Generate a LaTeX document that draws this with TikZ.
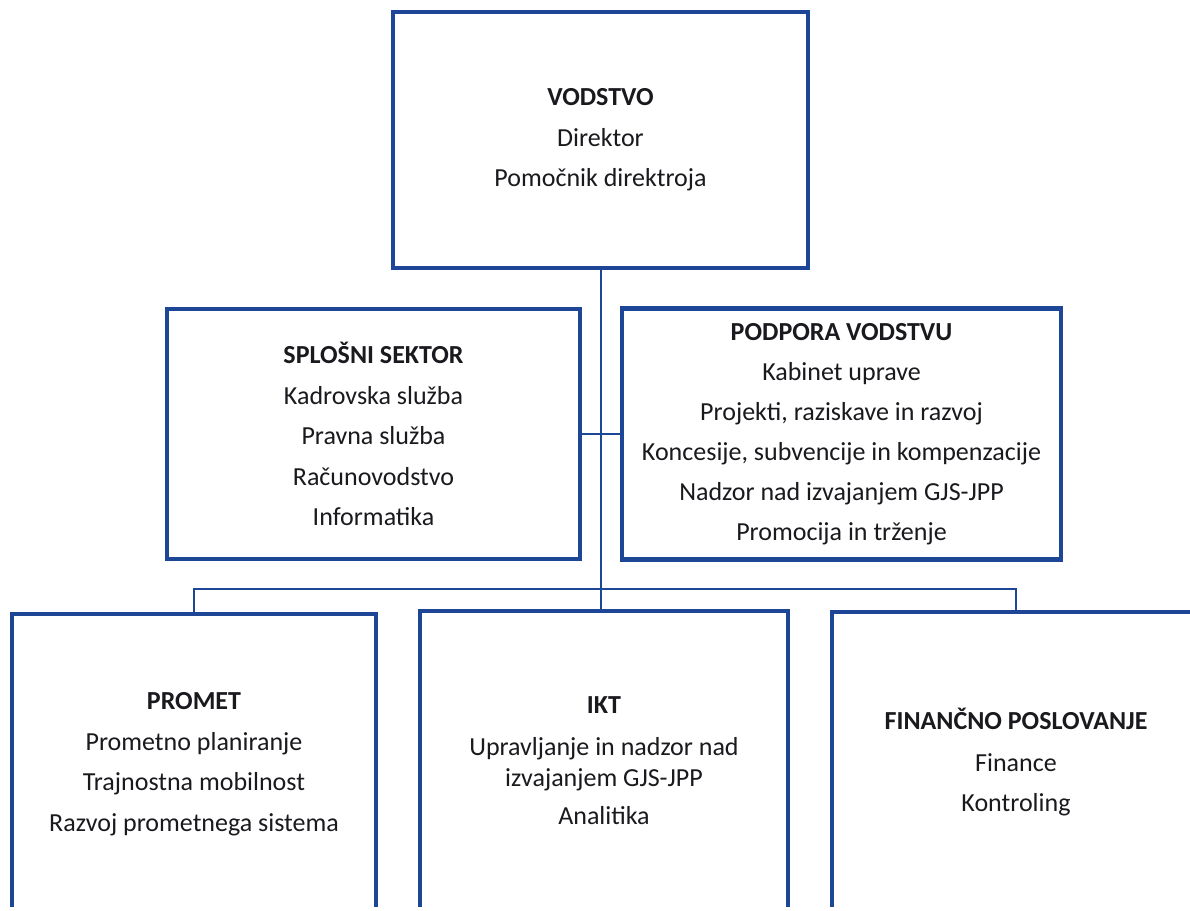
\documentclass[tikz,border=0pt]{standalone}
\usepackage{fontspec}
\setmainfont{Carlito}
\definecolor{orgblue}{RGB}{30,70,150}
\definecolor{txt}{RGB}{25,25,30}
\begin{document}
\begin{tikzpicture}[x=1pt,y=-1pt,
  unit/.style={draw=orgblue,line width=4.5pt,fill=white,inner sep=0pt,
    align=center,text=txt,font=\fontsize{26}{31}\selectfont},
  link/.style={draw=orgblue,line width=2.5pt}]
\useasboundingbox (0,0) rectangle (1190,910);
\fill[white] (0,0) rectangle (1190,910);
\clip (-5,-5) rectangle (1190,906);
\coordinate (bar) at (601,589);
\node[unit,minimum width=415pt,minimum height=256pt] (vod) at (600.5,140)
  {\textbf{VODSTVO}\\[9.5pt]Direktor\\[9.5pt]Pomočnik direktroja};
\node[unit,minimum width=413pt,minimum height=250pt] (splo) at (373.5,434)
  {\textbf{SPLOŠNI SEKTOR}\\[9.5pt]Kadrovska služba\\[9.5pt]Pravna služba\\[9.5pt]Računovodstvo\\[9.5pt]Informatika};
\node[unit,minimum width=439pt,minimum height=251pt] (pod) at (841.5,434)
  {\textbf{PODPORA VODSTVU}\\[9pt]Kabinet uprave\\[9pt]Projekti, raziskave in razvoj\\[9pt]Koncesije, subvencije in kompenzacije\\[9pt]Nadzor nad izvajanjem GJS-JPP\\[9pt]Promocija in trženje};
\node[unit,minimum width=364pt,minimum height=300pt] (prom) at (194,764)
  {\textbf{PROMET}\\[10pt]Prometno planiranje\\[9.5pt]Trajnostna mobilnost\\[9.5pt]Razvoj prometnega sistema};
\node[unit,minimum width=368pt,minimum height=300pt] (ikt) at (604,761)
  {\textbf{IKT}\\[11pt]Upravljanje in nadzor nad\\izvajanjem GJS-JPP\\[7pt]Analitika};
\node[unit,minimum width=368pt,minimum height=300pt] (fin) at (1016,762)
  {\textbf{FINANČNO POSLOVANJE}\\[11pt]Finance\\[9.5pt]Kontroling};
% connectors
\draw[link] (vod.south -| bar) -- (bar |- ikt.north);
\draw[link] (splo.east) -- (pod.west |- splo.east);
\draw[link] (prom.north) |- (bar) -| (fin.north);
\end{tikzpicture}
\end{document}
